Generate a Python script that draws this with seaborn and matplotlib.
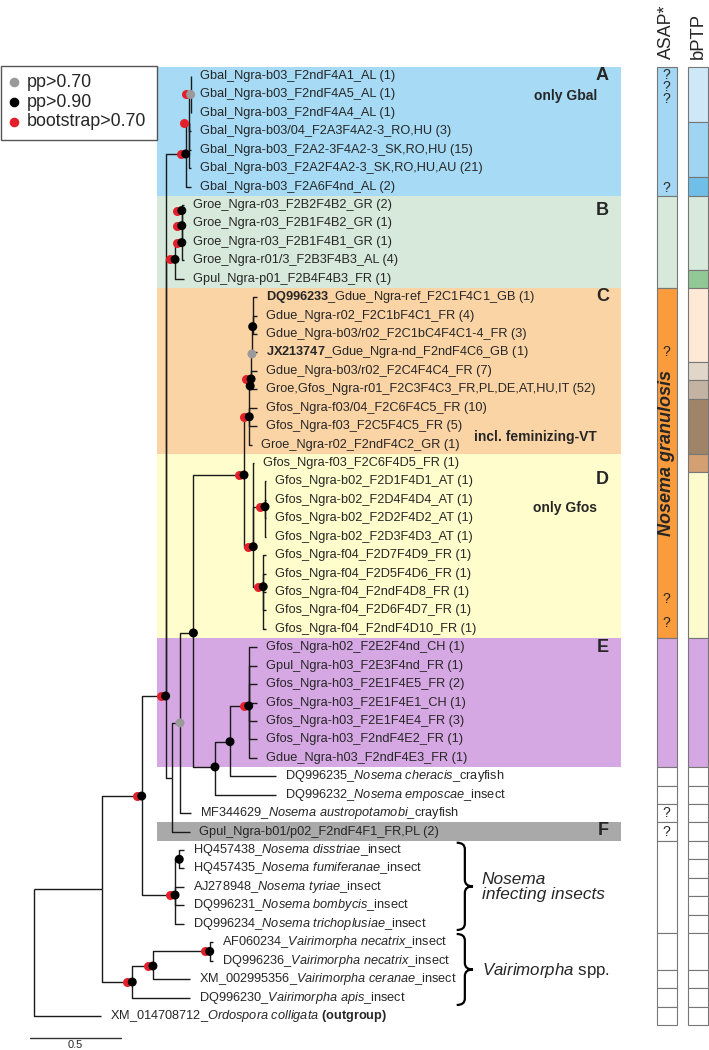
import numpy as np
import pandas as pd
import matplotlib.pyplot as plt
import seaborn as sns
from matplotlib.patches import Rectangle, PathPatch
from matplotlib.path import Path
from matplotlib.transforms import offset_copy

# ---------------- tips (top to bottom, one row each) ----------------
tip_labels = [
    "Gbal_Ngra-b03_F2ndF4A1_AL (1)",
    "Gbal_Ngra-b03_F2ndF4A5_AL (1)",
    "Gbal_Ngra-b03_F2ndF4A4_AL (1)",
    "Gbal_Ngra-b03/04_F2A3F4A2-3_RO,HU (3)",
    "Gbal_Ngra-b03_F2A2-3F4A2-3_SK,RO,HU (15)",
    "Gbal_Ngra-b03_F2A2F4A2-3_SK,RO,HU,AU (21)",
    "Gbal_Ngra-b03_F2A6F4nd_AL (2)",
    "Groe_Ngra-r03_F2B2F4B2_GR (2)",
    "Groe_Ngra-r03_F2B1F4B2_GR (1)",
    "Groe_Ngra-r03_F2B1F4B1_GR (1)",
    "Groe_Ngra-r01/3_F2B3F4B3_AL (4)",
    "Gpul_Ngra-p01_F2B4F4B3_FR (1)",
    r"$\mathbf{DQ996233}$_Gdue_Ngra-ref_F2C1F4C1_GB (1)",
    "Gdue_Ngra-r02_F2C1bF4C1_FR (4)",
    "Gdue_Ngra-b03/r02_F2C1bC4F4C1-4_FR (3)",
    r"$\mathbf{JX213747}$_Gdue_Ngra-nd_F2ndF4C6_GB (1)",
    "Gdue_Ngra-b03/r02_F2C4F4C4_FR (7)",
    "Groe,Gfos_Ngra-r01_F2C3F4C3_FR,PL,DE,AT,HU,IT (52)",
    "Gfos_Ngra-f03/04_F2C6F4C5_FR (10)",
    "Gfos_Ngra-f03_F2C5F4C5_FR (5)",
    "Groe_Ngra-r02_F2ndF4C2_GR (1)",
    "Gfos_Ngra-f03_F2C6F4D5_FR (1)",
    "Gfos_Ngra-b02_F2D1F4D1_AT (1)",
    "Gfos_Ngra-b02_F2D4F4D4_AT (1)",
    "Gfos_Ngra-b02_F2D2F4D2_AT (1)",
    "Gfos_Ngra-b02_F2D3F4D3_AT (1)",
    "Gfos_Ngra-f04_F2D7F4D9_FR (1)",
    "Gfos_Ngra-f04_F2D5F4D6_FR (1)",
    "Gfos_Ngra-f04_F2ndF4D8_FR (1)",
    "Gfos_Ngra-f04_F2D6F4D7_FR (1)",
    "Gfos_Ngra-f04_F2ndF4D10_FR (1)",
    "Gfos_Ngra-h02_F2E2F4nd_CH (1)",
    "Gpul_Ngra-h03_F2E3F4nd_FR (1)",
    "Gfos_Ngra-h03_F2E1F4E5_FR (2)",
    "Gfos_Ngra-h03_F2E1F4E1_CH (1)",
    "Gfos_Ngra-h03_F2E1F4E4_FR (3)",
    "Gfos_Ngra-h03_F2ndF4E2_FR (1)",
    "Gdue_Ngra-h03_F2ndF4E3_FR (1)",
    r"DQ996235_$\mathit{Nosema\ cheracis}$_crayfish",
    r"DQ996232_$\mathit{Nosema\ emposcae}$_insect",
    r"MF344629_$\mathit{Nosema\ austropotamobi}$_crayfish",
    "Gpul_Ngra-b01/p02_F2ndF4F1_FR,PL (2)",
    r"HQ457438_$\mathit{Nosema\ disstriae}$_insect",
    r"HQ457435_$\mathit{Nosema\ fumiferanae}$_insect",
    r"AJ278948_$\mathit{Nosema\ tyriae}$_insect",
    r"DQ996231_$\mathit{Nosema\ bombycis}$_insect",
    r"DQ996234_$\mathit{Nosema\ trichoplusiae}$_insect",
    r"AF060234_$\mathit{Vairimorpha\ necatrix}$_insect",
    r"DQ996236_$\mathit{Vairimorpha\ necatrix}$_insect",
    r"XM_002995356_$\mathit{Vairimorpha\ ceranae}$_insect",
    r"DQ996230_$\mathit{Vairimorpha\ apis}$_insect",
    r"XM_014708712_$\mathit{Ordospora\ colligata}$ $\mathbf{(outgroup)}$",
]
tip_parent = (["a_grey"] * 3 + ["a_sub"] * 3 + ["cladeA"] +
              ["b3", "b3", "b2", "b1", "b0"] +
              ["c3"] * 3 + ["c2", "c1", "c1b", "c0", "c0", "c0"] +
              ["d0"] + ["d2"] * 4 + ["d3"] * 5 +
              ["cladeE"] * 7 +
              ["n5", "n4", "grey", "n2"] +
              ["hq", "hq", "insects", "insects", "insects"] +
              ["v3", "v3", "v2", "vairi", "root"])
# depth of each tip (substitutions/site from the root)
tip_depth = ([0.864] * 7 + [0.824] * 5 + [1.226] * 8 + [1.200, 1.212] +
             [1.277] * 9 + [1.226] * 7 + [1.332, 1.332, 0.864, 0.860] +
             [0.824] * 5 + [0.985, 0.985, 0.857, 0.858, 0.368])

# ---------------- internal nodes ----------------
node_names = ["root", "ingroup", "nosema", "vairi", "v2", "v3", "insects", "hq",
              "n1", "cladeA", "a_sub", "a_grey", "b0", "b1", "b2", "b3",
              "n2", "grey", "n3", "cd", "c0", "c1b", "c1", "c2", "c3",
              "d0", "d2", "d3", "n4", "n5", "cladeE"]
node_parent = [None, "root", "ingroup", "ingroup", "vairi", "v2", "nosema", "insects",
               "nosema", "n1", "cladeA", "a_sub", "n1", "b0", "b1", "b2",
               "n1", "n2", "grey", "n3", "cd", "c0", "c1b", "c1", "c2",
               "cd", "d0", "d0", "n3", "n4", "n5"]
node_depth = [0.0, 0.372, 0.592, 0.540, 0.654, 0.967, 0.776, 0.799,
              0.724, 0.835, 0.855, 0.862, 0.776, 0.813, 0.813, 0.813,
              0.759, 0.803, 0.877, 1.156, 1.185, 1.190, 1.195, 1.200, 1.204,
              1.207, 1.272, 1.262, 0.996, 1.079, 1.182]
node_row = [44.11, 44.11, 39.07, 49.16, 48.29, 47.5, 44.44, 42.5,
            33.64, 4.23, 2.53, 1.0, 9.95, 9.04, 8.12, 7.3,
            38.09, 35.10, 30.22, 21.65, 18.49, 16.82, 16.44, 15.08, 13.60,
            25.54, 23.37, 27.71, 37.49, 36.12, 34.18]
# r = bootstrap>0.70, b = pp>0.90, g = pp>0.70
node_support = ["", "", "rb", "rb", "rb", "rb", "rb", "b",
                "rb", "rb", "r", "rg", "rb", "rb", "rb", "rb",
                "", "g", "b", "rb", "rb", "b", "rb", "g", "b",
                "rb", "rb", "rb", "b", "b", "rb"]

# ---------------- clade bands ----------------
band_names = ["A", "B", "C", "D", "E", "F"]
band_start = [-0.5, 6.5, 11.5, 20.5, 30.5, 40.5]
band_end = [6.5, 11.5, 20.5, 30.5, 37.5, 41.5]
band_colors = ["#a6daf5", "#d6e9da", "#fbd4a6", "#fefdcb", "#d6a8e3", "#a9a9a9"]
band_notes = ["only Gbal", "", "incl. feminizing-VT", "only Gfos", "", ""]

# ---------------- species delimitation ----------------
asap_start = [-0.5, 6.5, 11.5, 30.5, 37.5, 38.5, 39.5, 40.5, 41.5, 46.5, 48.5, 49.5, 50.5]
asap_end = [6.5, 11.5, 30.5, 37.5, 38.5, 39.5, 40.5, 41.5, 46.5, 48.5, 49.5, 50.5, 51.5]
asap_colors = ["#a3d7f3", "#d6e9da", "#fa9b3c", "#d6a8e3"] + ["white"] * 9
asap_unsure = [-0.05, 0.6, 1.25, 6.1, 15.0, 28.4, 29.7, 40.0, 41.0]

bptp_start = [-0.5, 2.5, 5.5, 6.5, 10.5, 11.5, 15.5, 16.5, 17.5, 20.5, 21.5, 30.5,
              37.5, 38.5, 39.5, 40.5, 41.5, 42.5, 43.5, 44.5, 45.5, 46.5, 48.5, 49.5, 50.5]
bptp_end = bptp_start[1:] + [51.5]
bptp_colors = ["#cfe8f7", "#9fd4f2", "#6fbfe9", "#d6e9da", "#90c996", "#fde9d5",
               "#e0d7c9", "#c3b3a2", "#a08467", "#d4a072", "#fdfbcd", "#d6a8e3"] + ["white"] * 13

# ---------------- style ----------------
sns.set_theme(style="white")
plt.rcParams["font.family"] = ["Liberation Sans", "DejaVu Sans"]
plt.rcParams["mathtext.fontset"] = "custom"
plt.rcParams["mathtext.rm"] = "Liberation Sans"
plt.rcParams["mathtext.it"] = "Liberation Sans:italic"
plt.rcParams["mathtext.bf"] = "Liberation Sans:bold"

RED, GREY, LINE = "#e3202a", "#9a9a9a", "#1a1a1a"

# layout helpers: image pixels -> (depth, row) coordinates
def ux(px):
    return (px - 34.3) / 181.4

def ry(py):
    return (py - 76) / 18.43

fig = plt.figure(figsize=(7.09, 10.5), dpi=100)
ax = fig.add_axes([0, 0, 1, 1])

# clade backgrounds
band_mid = [(s + e) / 2 for s, e in zip(band_start, band_end)]
band_h = [e - s for s, e in zip(band_start, band_end)]
ax.barh(band_mid, ux(621) - ux(157), left=ux(157), height=band_h,
        color=band_colors, linewidth=0, zorder=0)
letter_rows = [0.0, 7.3, 11.95, 21.9, 31.0, 40.95]
for name, r in zip(band_names, letter_rows):
    ax.text(ux(609), r, name, ha="right", va="center", fontsize=13, fontweight="bold")
note_rows = [1.1, 19.6, 23.45]
for note, r in zip([n for n in band_notes if n], note_rows):
    ax.text(ux(597), r, note, ha="right", va="center", fontsize=10, fontweight="bold")

# tree branches (elbow style)
pos = {n: (d, r) for n, d, r in zip(node_names, node_depth, node_row)}
for child, par in zip(node_names[1:], node_parent[1:]):
    px_, py_ = pos[par]
    cx, cy = pos[child]
    ax.plot([px_, px_, cx], [py_, cy, cy], color=LINE, lw=1.0, zorder=2,
            solid_capstyle="butt")
for i, (par, d) in enumerate(zip(tip_parent, tip_depth)):
    px_, py_ = pos[par]
    ax.plot([px_, px_, d], [py_, i, i], color=LINE, lw=1.0, zorder=2,
            solid_capstyle="butt")
    ax.annotate(tip_labels[i], (d, i), xytext=(6.5, 0), textcoords="offset points",
                ha="left", va="center", fontsize=9.2, zorder=4)

# support symbols
sup = pd.DataFrame({"x": node_depth, "y": node_row, "support": node_support})
red = sup[sup["support"].str.contains("r")]
ax.scatter(red["x"], red["y"], s=42, color=RED, linewidths=0, zorder=5,
           transform=offset_copy(ax.transData, fig=fig, x=-3.6, y=0, units="points"))
pp = sup[sup["support"].str.contains("b|g")].copy()
pp["level"] = np.where(pp["support"].str.contains("b"), "pp>0.90", "pp>0.70")
sns.scatterplot(data=pp, x="x", y="y", hue="level",
                palette={"pp>0.90": "black", "pp>0.70": GREY},
                s=42, linewidth=0, legend=False, ax=ax, zorder=6)

# legend box
ax.add_patch(Rectangle((ux(1), ry(66)), ux(157) - ux(1), ry(140) - ry(66),
                       facecolor="white", edgecolor="#555555", lw=1.0, zorder=3))
leg_rows = [ry(82.3), ry(102.3), ry(121.7)]
for r, c, t in zip(leg_rows, [GREY, "black", RED], ["pp>0.70", "pp>0.90", "bootstrap>0.70"]):
    ax.scatter([ux(14)], [r], s=48, color=c, linewidths=0, zorder=4)
    ax.text(ux(26.7), r, t, ha="left", va="center", fontsize=12.9, zorder=4)

# species-delimitation columns
def draw_column(starts, ends, colors, left_px, right_px):
    mids = [(s + e) / 2 for s, e in zip(starts, ends)]
    hs = [e - s for s, e in zip(starts, ends)]
    ax.barh(mids, ux(right_px) - ux(left_px), left=ux(left_px), height=hs,
            color=colors, edgecolor="#777777", linewidth=0.8, zorder=1)

draw_column(asap_start, asap_end, asap_colors, 656.7, 676.7)
draw_column(bptp_start, bptp_end, bptp_colors, 688, 708)
for r in asap_unsure:
    ax.text(ux(666.7), r, "?", ha="center", va="center", fontsize=10, zorder=3)
ax.text(ux(666.7), ry(453.5), "Nosema granulosis", rotation=90, ha="center", va="center",
        fontsize=13, fontweight="bold", fontstyle="italic", zorder=3)
ax.text(ux(666.7), ry(59), "ASAP*", rotation=90, ha="center", va="bottom", fontsize=12.8)
ax.text(ux(698.3), ry(59), "bPTP", rotation=90, ha="center", va="bottom", fontsize=13.3)

# braces for the outgroup genera
def brace(x0, x1, y0, y1, h=0.35):
    xm = (x0 + x1) / 2
    ym = (y0 + y1) / 2
    verts = [(x0, y0), (xm, y0), (xm, y0 + h), (xm, ym - h), (xm, ym), (x1, ym),
             (xm, ym), (xm, ym + h), (xm, y1 - h), (xm, y1), (x0, y1)]
    codes = [Path.MOVETO, Path.CURVE3, Path.CURVE3, Path.LINETO, Path.CURVE3, Path.CURVE3,
             Path.CURVE3, Path.CURVE3, Path.LINETO, Path.CURVE3, Path.CURVE3]
    ax.add_patch(PathPatch(Path(verts, codes), facecolor="none", edgecolor="black", lw=1.6))

brace(ux(456.7), ux(473), ry(842.7), ry(930))
brace(ux(456.7), ux(473), ry(934), ry(1005))
ax.text(ux(481.7), ry(887), "Nosema\ninfecting insects", ha="left", va="center",
        fontsize=12.4, fontstyle="italic", linespacing=1.05)
ax.text(ux(482), ry(970), r"$\mathit{Vairimorpha}$ spp.", ha="left", va="center", fontsize=12.2)

# scale bar
ax.plot([ux(30), ux(30) + 0.5], [ry(1037.7)] * 2, color="#333333", lw=1.0)
ax.text(ux(30) + 0.25, ry(1045), "0.5", ha="center", va="center", fontsize=8)

ax.set_xlim(ux(0), ux(709))
ax.set_ylim(ry(1050), ry(0))
ax.set_axis_off()
fig.savefig("out.png", dpi=100)
